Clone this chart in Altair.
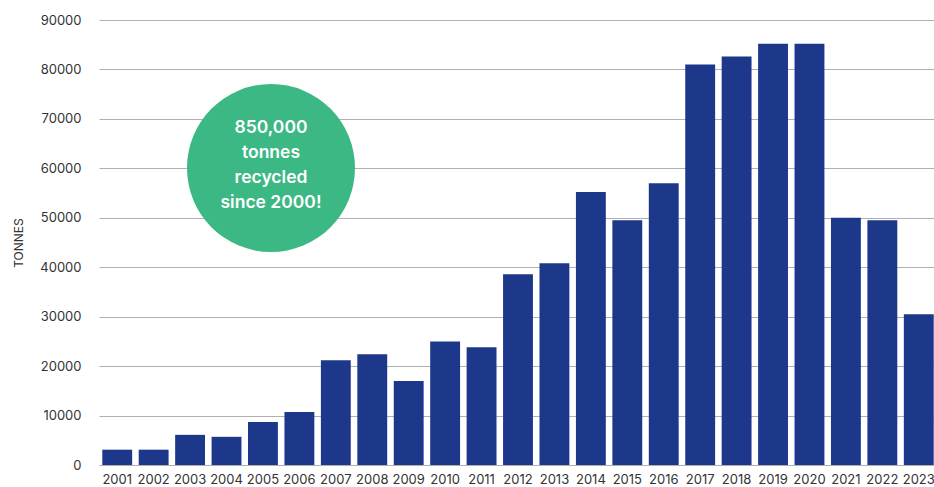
import altair as alt
import pandas as pd

years = [str(y) for y in range(2001, 2024)]
tonnes = [3100, 3100, 6100, 5700, 8700, 10700, 21200, 22400, 17000, 25000,
          23800, 38600, 40800, 55200, 49500, 57000, 81000, 82600, 85200, 85200,
          50000, 49500, 30500]
y_ticks = [0, 10000, 20000, 30000, 40000, 50000, 60000, 70000, 80000, 90000]
badge_text = "850,000\ntonnes\nrecycled\nsince 2000!"

df = pd.DataFrame({"year": years, "tonnes": tonnes})

FONT = "Inter"

bars = alt.Chart(df).mark_bar(color="#1d378a").encode(
    x=alt.X("year:N",
            scale=alt.Scale(range=[9, 847], paddingInner=0.18, paddingOuter=0.09),
            axis=alt.Axis(title=None, labelAngle=0, ticks=False, domain=False,
                          labelPadding=8, labelFontSize=13, labelColor="#333333",
                          labelFont=FONT, grid=False)),
    y=alt.Y("tonnes:Q",
            scale=alt.Scale(domain=[0, 90000], nice=False),
            axis=alt.Axis(title="TONNES", values=y_ticks, format="d", ticks=False,
                          domain=False, labelPadding=9, labelFontSize=13,
                          labelColor="#333333", labelFont=FONT,
                          titleFont=FONT, titleFontSize=12, titleFontWeight="normal",
                          titleColor="#333333", titlePadding=14,
                          gridColor="#b0b0b0", gridWidth=1)),
)

badge_df = pd.DataFrame({"label": [badge_text]})

circle = alt.Chart(badge_df).mark_point(
    filled=True, color="#3bb884", opacity=1, size=28224, shape="circle"
).encode(x=alt.value(181), y=alt.value(148))

text = alt.Chart(badge_df).mark_text(
    color="white", font=FONT, fontSize=17.5, fontWeight=600,
    lineBreak="\n", lineHeight=25, align="center", baseline="middle"
).encode(x=alt.value(181), y=alt.value(108), text="label:N")

chart = alt.layer(bars, circle, text).properties(
    width=817, height=445,
    autosize=alt.AutoSizeParams(type="none"),
    padding={"left": 90, "right": 27, "top": 20, "bottom": 22},
).configure(font=FONT).configure_view(stroke=None)

chart.save("out.html", embed_options={"renderer": "svg", "actions": False})
